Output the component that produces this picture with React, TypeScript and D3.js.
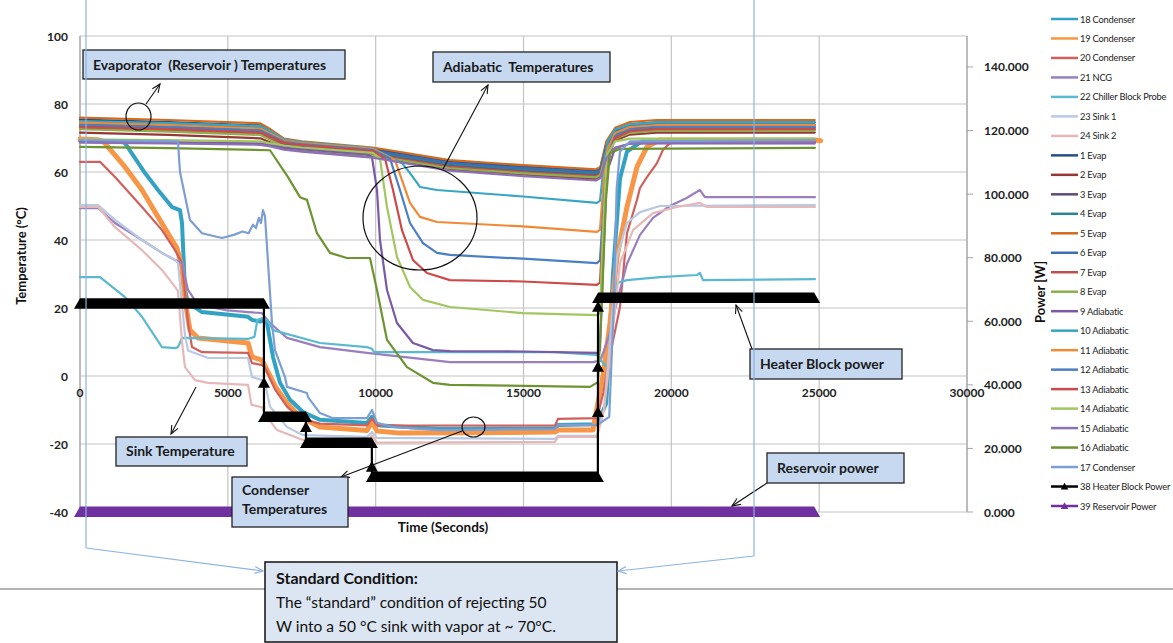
import * as d3 from "d3";

type Pt = [number, number];

// ---------- axes ----------
const timeTicks = [0, 5000, 10000, 15000, 20000, 25000, 30000];
const tempTicks = [-40, -20, 0, 20, 40, 60, 80, 100];
const powerTicks = [0, 20, 40, 60, 80, 100, 120, 140];

// ---------- temperature data (time s, °C) ----------
// evaporator / top cluster share the same sample times
const clusterTimes = [0, 3000, 6100, 6400, 6900, 7500, 9900, 12500, 15000, 17450, 17600, 17800, 18100, 18600, 19500, 24850];
const evap1 = [75.4, 74.7, 73.7, 72.3, 69.4, 68.6, 66.8, 63.1, 61.6, 60.4, 61.1, 68.3, 72.3, 74.0, 74.6, 74.6];
const evap2 = [71.6, 70.9, 69.9, 68.8, 67.0, 66.2, 64.4, 60.7, 59.2, 58.0, 58.7, 65.3, 69.3, 71.0, 71.6, 71.6];
const evap3 = [73.6, 72.9, 71.9, 70.6, 68.2, 67.4, 65.6, 61.9, 60.4, 59.2, 59.9, 66.7, 70.7, 72.4, 73.0, 73.0];
const evap4 = [74.2, 73.5, 72.5, 71.2, 68.6, 67.8, 66.0, 62.3, 60.8, 59.6, 60.3, 67.2, 71.2, 72.9, 73.5, 73.5];
const evap5 = [76.0, 75.3, 74.3, 72.8, 69.8, 69.0, 67.2, 63.5, 62.0, 60.8, 61.5, 69.0, 73.0, 74.7, 75.3, 75.3];
const evap6 = [74.8, 74.1, 73.1, 71.7, 69.0, 68.2, 66.4, 62.7, 61.2, 60.0, 60.7, 67.7, 71.7, 73.4, 74.0, 74.0];
const evap7 = [73.0, 72.3, 71.3, 70.0, 67.8, 67.0, 65.2, 61.5, 60.0, 58.8, 59.5, 66.2, 70.2, 71.9, 72.5, 72.5];
const evap8 = [72.6, 71.9, 70.9, 69.6, 67.4, 66.6, 64.8, 61.1, 59.6, 58.4, 59.1, 65.8, 69.8, 71.5, 72.1, 72.1];
const adia15 = [68.6, 68.4, 68.0, 67.6, 66.6, 66.0, 64.2, 60.4, 58.8, 57.5, 58.2, 64.0, 67.2, 68.3, 68.6, 68.6];

const adia9: Pt[] = [[0, 69.0], [3000, 68.8], [6100, 68.4], [6400, 68.0], [6900, 67.2], [7500, 66.7], [9706, 65.2], [9875, 64.4], [10045, 54.7], [10146, 40.0], [10383, 25.3], [10721, 15.6], [11262, 9.7], [11938, 7.6], [12513, 7.3], [14982, 7.2], [17485, 6.8], [17586, 7.5], [17700, 35], [17820, 60], [18100, 67], [18600, 68.4], [24850, 68.4]];
const adia10: Pt[] = [[0, 75.0], [3000, 74.4], [6100, 73.5], [6400, 72.2], [6900, 69.5], [7500, 68.8], [9900, 67.0], [10890, 62.6], [11161, 59.7], [11499, 55.6], [12074, 54.7], [14982, 52.8], [17485, 50.9], [17586, 51.5], [17720, 62], [17850, 69], [18100, 72.5], [18600, 74.0], [19500, 74.6], [24850, 74.6]];
const adia11: Pt[] = [[0, 74.5], [3000, 73.8], [6100, 72.8], [6400, 71.5], [6900, 69.2], [7500, 68.5], [9900, 66.8], [10653, 63.5], [10890, 57.6], [11161, 50.9], [11499, 46.8], [12074, 45.3], [14982, 44.0], [17485, 42.4], [17586, 43.0], [17720, 58], [17850, 67], [18100, 71.5], [18600, 73.2], [19500, 73.8], [24850, 73.8]];
const adia12: Pt[] = [[0, 73.8], [3000, 73.2], [6100, 72.2], [6400, 71.0], [6900, 68.9], [7500, 68.2], [9900, 66.5], [10484, 64.0], [10822, 54.7], [11161, 45.0], [11600, 39.1], [12074, 36.2], [12513, 35.6], [14982, 34.5], [17485, 33.2], [17586, 34], [17720, 52], [17850, 65], [18100, 70.5], [18600, 72.6], [19500, 73.2], [24850, 73.2]];
const adia13: Pt[] = [[0, 73.2], [3000, 72.6], [6100, 71.6], [6400, 70.5], [6900, 68.6], [7500, 67.9], [9900, 66.2], [10315, 64.0], [10586, 54.7], [10890, 42.9], [11262, 34.1], [11736, 30.3], [12513, 28.2], [14982, 27.8], [17485, 26.8], [17586, 27.5], [17720, 48], [17850, 63], [18100, 70], [18600, 72.0], [19500, 72.6], [24850, 72.6]];
const adia14: Pt[] = [[0, 69.6], [3000, 69.4], [6100, 69.0], [6400, 68.5], [6900, 67.8], [7500, 67.2], [9900, 65.6], [10146, 64.0], [10383, 49.7], [10721, 35.0], [11161, 26.2], [11600, 22.4], [12513, 20.3], [14982, 18.5], [17485, 17.9], [17586, 18.5], [17700, 45], [17820, 65], [18100, 69], [18600, 69.8], [24850, 69.8]];
const adia16: Pt[] = [[0, 67.4], [3000, 67.0], [6426, 66.4], [7035, 58.5], [7440, 52.6], [7677, 51.8], [8015, 42], [8455, 36.2], [9030, 34.7], [9808, 34.7], [10045, 25.3], [10383, 10.6], [11059, 2.6], [11938, -2.0], [12513, -2.6], [17248, -3.2], [17519, -1.8], [17654, 22.4], [17789, 51.8], [17925, 65.6], [18263, 66.8], [24858, 67.1]];

const cond17: Pt[] = [[0, 69.4], [3314, 69.0], [3382, 60], [3720, 45.9], [4126, 42.0], [4802, 40.6], [5200, 41.5], [5500, 42.5], [5700, 42.0], [5850, 44.5], [5950, 43.5], [6050, 46.5], [6120, 45.0], [6189, 48.8], [6257, 47], [6493, 15.6], [6595, 7.6], [6933, -0.3], [7001, -3.2], [7677, -5.0], [7711, -6.2], [8117, -10.9], [8556, -12.4], [9706, -12.4], [9875, -10.0], [10045, -13.8], [10586, -15.0], [12175, -15.9], [16064, -15.6], [16166, -14.4], [17485, -14.4], [17900, -12], [18050, 20], [18150, 55], [18263, 66], [18600, 69.0], [24858, 69.4]];
const cond18: Pt[] = [[0, 69.2], [1400, 69.0], [1522, 68.5], [2198, 59.7], [2638, 54.7], [3111, 49.7], [3382, 48.8], [3450, 45.0], [3551, 25.3], [3653, 21.5], [4126, 18.8], [5682, 17.4], [5817, 16.5], [6088, 16.0], [6257, 16.5], [6324, 15.6], [6527, 5.6], [6764, -2.0], [7102, -7.0], [7542, -10.6], [8117, -12.9], [9706, -13.8], [9875, -12.0], [10045, -14.5], [12175, -15.6], [16064, -15.6], [16166, -14.4], [17485, -14.2], [17800, -8.0], [18026, 30.0], [18263, 58.0], [18500, 66.0], [19000, 69.0], [24858, 69.2]];
const cond19: Pt[] = [[0, 69.7], [600, 69.5], [778, 69.1], [1522, 61.5], [2097, 54.7], [2638, 46.8], [3111, 40.0], [3281, 37.6], [3450, 32.0], [3551, 22.4], [3720, 13.5], [3991, 11.2], [5682, 9.7], [5817, 5.6], [6155, 4.7], [6257, 3.0], [6600, -3.0], [7001, -8.0], [7440, -12.0], [8117, -15.0], [9706, -16.0], [9875, -13.5], [10045, -16.2], [10822, -16.8], [16064, -16.5], [16166, -15.9], [17350, -15.9], [17688, 0.0], [17925, 15.6], [18162, 35.0], [18500, 49.7], [18838, 61.5], [19176, 67.4], [19600, 69.4], [24858, 69.4], [25050, 69.2]];
const cond20: Pt[] = [[0, 63.0], [676, 63.0], [1184, 58.5], [2097, 49.7], [2773, 42.9], [3213, 37.0], [3450, 33.2], [3653, 15.6], [3788, 8.5], [4126, 7.0], [5682, 6.8], [5817, 3.8], [6155, 3.2], [6257, 2.5], [6600, -4], [7001, -9], [7440, -12.5], [8117, -14.0], [9706, -14.5], [9875, -12.5], [10045, -14.5], [16064, -14.6], [16166, -12.6], [17485, -12.4], [17700, -5], [17900, 5], [18263, 20.3], [18500, 42.0], [18838, 51.8], [18939, 55.3], [19176, 58.5], [19514, 62.6], [19717, 66.5], [19954, 68.5], [20500, 68.8], [24858, 68.8]];
const ncg21: Pt[] = [[0, 49.4], [609, 49.4], [1184, 45.0], [2097, 40.0], [2773, 36.2], [3213, 34.1], [3450, 33.2], [3653, 25.3], [3991, 20.9], [4904, 19.4], [5682, 18.8], [6155, 18.5], [6426, 15.6], [7001, 11.2], [8117, 8.5], [9706, 6.8], [12513, 4.1], [17350, 4.1], [17600, 4.5], [17900, 12.0], [18163, 22.0], [18500, 33.0], [18940, 41.5], [19380, 46.5], [19950, 50.0], [20500, 52.3], [20968, 54.7], [21138, 52.6], [24858, 52.6]];
const chiller22: Pt[] = [[0, 29.1], [676, 29.1], [1522, 23.2], [2097, 17.4], [2773, 8.5], [3213, 8.2], [3314, 8.5], [3450, 11.2], [5682, 10.9], [5900, 11.5], [6000, 16.5], [6150, 17.0], [6324, 16.5], [6527, 13.5], [8117, 9.7], [9706, 8.5], [9875, 8.0], [9950, 7.0], [12513, 7.0], [16064, 7.0], [17485, 6.2], [17720, 3.5], [17857, 2.8], [18026, 20.3], [18162, 27.4], [18500, 28.2], [19616, 29.1], [20867, 29.7], [20968, 30.3], [21070, 28.2], [24858, 28.5]];
const sink23: Pt[] = [[0, 50.3], [609, 50.3], [1184, 45.9], [2097, 40.0], [2773, 36.2], [3213, 34.1], [3314, 33.2], [3551, 12], [3653, 7.5], [4329, 5.3], [5682, 5.3], [5817, -0.3], [6155, -1.2], [6257, -2.0], [6426, -9.0], [7001, -15.0], [7542, -17.4], [9706, -17.9], [9875, -16.5], [10045, -18.2], [16064, -18.5], [16166, -17.6], [17485, -17.6], [17720, -10], [17900, 8], [18162, 35.0], [18500, 45.0], [18939, 48.2], [19616, 50.0], [24858, 50.3]];
const sink24: Pt[] = [[0, 49.7], [609, 49.7], [1184, 43.8], [2097, 37.0], [2773, 31.2], [3111, 27.4], [3213, 26.2], [3314, 25.0], [3450, 10], [3551, 2.6], [3889, -1.2], [4329, -2.0], [5682, -2.6], [5800, -8.5], [6155, -9.2], [6324, -12.0], [6663, -15.9], [7542, -18.8], [9706, -19.4], [9875, -17.5], [10045, -19.6], [16064, -19.4], [16166, -17.9], [17485, -17.9], [17720, -10], [17925, 5.6], [18263, 33.2], [18703, 42.9], [19379, 47.9], [20190, 49.7], [20968, 50.9], [21205, 49.7], [24858, 49.7]];

// ---------- power data (time s, W) ----------
const heaterPower: Pt[] = [[0, 65.5], [6220, 65.5], [6222, 40.6], [6224, 29.9], [7640, 29.9], [7642, 26.7], [7644, 21.7], [9870, 21.7], [9872, 14.2], [9874, 11], [17515, 11], [17517, 31.4], [17519, 45.6], [17521, 64.5], [17523, 67.3], [24830, 67.3]];
const reservoirPower: Pt[] = [[0, 0], [24830, 0]];

const zipC = (v: number[]): Pt[] => clusterTimes.map((t, i) => [t, v[i]] as Pt);

const tempSeries = [
  { name: "18 Condenser", color: "#31a2c4", w: 4, data: cond18 },
  { name: "19 Condenser", color: "#f79646", w: 5, data: cond19 },
  { name: "20 Condenser", color: "#d0605c", w: 2.2, data: cond20 },
  { name: "21 NCG", color: "#9a7fbf", w: 2.2, data: ncg21 },
  { name: "22 Chiller Block Probe", color: "#5ab9d0", w: 2.2, data: chiller22 },
  { name: "23 Sink 1", color: "#b8c9e4", w: 2.2, data: sink23 },
  { name: "24 Sink 2", color: "#e6b9b8", w: 2.2, data: sink24 },
  { name: "1 Evap", color: "#254f86", w: 2.2, data: zipC(evap1) },
  { name: "2 Evap", color: "#953735", w: 2.2, data: zipC(evap2) },
  { name: "3 Evap", color: "#604a7b", w: 2.2, data: zipC(evap3) },
  { name: "4 Evap", color: "#2f8197", w: 2.2, data: zipC(evap4) },
  { name: "5 Evap", color: "#d46a1c", w: 2.2, data: zipC(evap5) },
  { name: "6 Evap", color: "#3a6eb5", w: 2.2, data: zipC(evap6) },
  { name: "7 Evap", color: "#c0504d", w: 2.2, data: zipC(evap7) },
  { name: "8 Evap", color: "#8db04f", w: 2.2, data: zipC(evap8) },
  { name: "9 Adiabatic", color: "#7a5aa5", w: 2.2, data: adia9 },
  { name: "10 Adiabatic", color: "#37a6c2", w: 2.2, data: adia10 },
  { name: "11 Adiabatic", color: "#f08a37", w: 2.2, data: adia11 },
  { name: "12 Adiabatic", color: "#4a7fc4", w: 2.2, data: adia12 },
  { name: "13 Adiabatic", color: "#cc4b48", w: 2.2, data: adia13 },
  { name: "14 Adiabatic", color: "#a2c760", w: 2.2, data: adia14 },
  { name: "15 Adiabatic", color: "#8c70b8", w: 2.2, data: zipC(adia15) },
  { name: "16 Adiabatic", color: "#6e9432", w: 2.2, data: adia16 },
  { name: "17 Condenser", color: "#7b9fd4", w: 2.2, data: cond17 },
];
const powerSeries = [
  { name: "38 Heater Block Power", color: "#000000", data: heaterPower },
  { name: "39 Reservoir Power", color: "#7030a0", data: reservoirPower },
];

const x = d3.scaleLinear().domain([0, 30000]).range([80, 967]);
const yT = d3.scaleLinear().domain([-40, 100]).range([512, 36]);
const yP = d3.scaleLinear().domain([0, 150]).range([512, 35.2]);

const lineT = d3.line<Pt>().x((d) => x(d[0])).y((d) => yT(d[1]));
const lineP = d3.line<Pt>().x((d) => x(d[0])).y((d) => yP(d[1]));

const FONT = "Lato, 'Open Sans', sans-serif";

const tri = (cx: number, cy: number, s = 6) =>
  `M${cx},${cy - s} L${cx + s},${cy + s * 0.8} L${cx - s},${cy + s * 0.8} Z`;

function PowerMarks({ data, color }: { data: Pt[]; color: string }) {
  const els: any[] = [];
  data.forEach((d, i) => {
    const prev = data[i - 1];
    const next = data[i + 1];
    const bandStart = next && next[1] === d[1] && x(next[0]) - x(d[0]) > 10;
    const bandEnd = prev && prev[1] === d[1] && x(d[0]) - x(prev[0]) > 10;
    if (bandStart) {
      const x1 = x(d[0]);
      const x2 = x(next[0]);
      const y = yP(d[1]);
      els.push(
        <polygon key={"b" + i} fill={color}
          points={`${x1 - 6},${y + 5} ${x2 + 6},${y + 5} ${x2},${y - 5.5} ${x1},${y - 5.5}`} />
      );
    } else if (!bandEnd) {
      els.push(<path key={"t" + i} d={tri(x(d[0]), yP(d[1]))} fill={color} />);
    }
  });
  return (
    <g>
      <path d={lineP(data) || ""} fill="none" stroke={color} strokeWidth={2.2} />
      {els}
    </g>
  );
}

function Arrow({ x1, y1, x2, y2, color = "#111", w = 1.1 }: any) {
  const a = Math.atan2(y2 - y1, x2 - x1);
  const s = 9;
  const p1 = [x2 - s * Math.cos(a - 0.4), y2 - s * Math.sin(a - 0.4)];
  const p2 = [x2 - s * Math.cos(a + 0.4), y2 - s * Math.sin(a + 0.4)];
  return (
    <g stroke={color} strokeWidth={w} fill="none">
      <line x1={x1} y1={y1} x2={x2} y2={y2} />
      <path d={`M${p1[0]},${p1[1]} L${x2},${y2} L${p2[0]},${p2[1]}`} />
    </g>
  );
}

function Callout({ x0, y0, w, h, lines, tx, ty, lh = 20, fs = 13.5 }: any) {
  return (
    <g>
      <rect x={x0} y={y0} width={w} height={h} fill="#c6d9f1" stroke="#222" strokeWidth={1.3} />
      {lines.map((s: string, i: number) => (
        <text key={i} x={tx} y={ty + i * lh} fontSize={fs} fontWeight={700} fill="#1a1a1a"
          style={{ whiteSpace: "pre" }}>{s}</text>
      ))}
    </g>
  );
}

export default function App() {
  return (
    <svg width={1173} height={643} style={{ position: "absolute", left: 0, top: 0 }} fontFamily={FONT}>
      <rect width={1173} height={643} fill="#fff" />

      {/* gridlines */}
      {tempTicks.map((t) => (
        <line key={"h" + t} x1={80} x2={967} y1={yT(t)} y2={yT(t)} stroke="#c4c4c4" strokeWidth={1.2} />
      ))}
      {timeTicks.map((t) => (
        <line key={"v" + t} x1={x(t)} x2={x(t)} y1={36} y2={512} stroke="#c4c4c4" strokeWidth={1.2} />
      ))}
      <line x1={80} x2={80} y1={36} y2={512} stroke="#a6a6a6" strokeWidth={1.2} />
      <line x1={967} x2={967} y1={36} y2={512} stroke="#a6a6a6" strokeWidth={1.2} />
      {powerTicks.map((p) => (
        <line key={"pt" + p} x1={967} x2={973} y1={yP(p)} y2={yP(p)} stroke="#a6a6a6" />
      ))}

      {/* tick labels */}
      {tempTicks.map((t) => (
        <text key={"tl" + t} x={68} y={yT(t) + 4.5} textAnchor="end" fontSize={12} fontWeight={700} fill="#222">{t}</text>
      ))}
      {timeTicks.map((t) => (
        <text key={"xl" + t} x={x(t)} y={yT(0) + 21} textAnchor="middle" fontSize={12} fontWeight={700} fill="#222">{t}</text>
      ))}
      {powerTicks.map((p) => (
        <text key={"pl" + p} x={984} y={yP(p) + 4.5} fontSize={12} fontWeight={700} fill="#222">{d3.format(".3f")(p)}</text>
      ))}

      {/* axis titles */}
      <text transform="translate(26,256) rotate(-90)" textAnchor="middle" fontSize={13} fontWeight={700} fill="#111">Temperature (°C)</text>
      <text transform="translate(1045,292) rotate(-90)" textAnchor="middle" fontSize={13} fontWeight={700} fill="#111">Power [W]</text>
      <text x={443} y={532} textAnchor="middle" fontSize={13.5} fontWeight={700} fill="#111">Time (Seconds)</text>

      {/* temperature series */}
      {tempSeries.map((s) => (
        <path key={s.name} d={lineT(s.data) || ""} fill="none" stroke={s.color} strokeWidth={s.w}
          strokeLinejoin="round" strokeLinecap="round" />
      ))}

      {/* power series */}
      {powerSeries.map((s) => (
        <PowerMarks key={s.name} data={s.data} color={s.color} />
      ))}

      {/* callouts */}
      <ellipse cx={138.5} cy={116.5} rx={12.5} ry={13.5} fill="none" stroke="#111" strokeWidth={1.2} />
      <Arrow x1={146} y1={104} x2={160} y2={84} />
      <Callout x0={83} y0={50} w={262} h={29} lines={["Evaporator  (Reservoir ) Temperatures"]} tx={93} ty={70} fs={14} />

      <ellipse cx={420} cy={218} rx={57} ry={52} fill="none" stroke="#111" strokeWidth={1.2} />
      <Arrow x1={443} y1={169} x2={488} y2={85} />
      <Callout x0={433} y0={52} w={177} h={30} lines={["Adiabatic  Temperatures"]} tx={443} ty={72} fs={14} />

      <Arrow x1={196} y1={387} x2={171} y2={434} />
      <Callout x0={116} y0={437} w={131} h={29} lines={["Sink Temperature"]} tx={126} ty={456} fs={14} />

      <ellipse cx={473.5} cy={427} rx={11.5} ry={10} fill="none" stroke="#111" strokeWidth={1.2} />
      <Arrow x1={462} y1={431} x2={341} y2={477} />
      <Callout x0={232} y0={477} w={116} h={50} lines={["Condenser", "Temperatures"]} tx={242} ty={495} lh={19} fs={14} />

      <Arrow x1={752} y1={349} x2={736} y2={305} />
      <Callout x0={750} y0={349} w={152} h={30} lines={["Heater Block power"]} tx={760} ty={369} fs={14} />

      <Arrow x1={767} y1={483} x2={732} y2={506} />
      <Callout x0={767} y0={453} w={137} h={30} lines={["Reservoir power"]} tx={777} ty={473} fs={14} />

      {/* legend */}
      {[...tempSeries, ...powerSeries].map((s: any, i) => {
        const ly = 19 + i * 19.48;
        return (
          <g key={"lg" + s.name}>
            <line x1={1051} x2={1078} y1={ly} y2={ly} stroke={s.color} strokeWidth={2.5} />
            {i >= tempSeries.length && <path d={tri(1064.5, ly, 3.8)} fill={s.color} />}
            <text x={1080} y={ly + 3.5} fontSize={9.3} letterSpacing={-0.2} fill="#222">{s.name}</text>
          </g>
        );
      })}

      {/* page separator + standard condition box */}
      <line x1={0} x2={1173} y1={589} y2={589} stroke="#9a9a9a" strokeWidth={1.3} />
      <rect x={265} y={562} width={352} height={80} fill="#dce6f2" stroke="#111" strokeWidth={1.5} />
      <text x={276} y={584} fontSize={16} fontWeight={700} fill="#111">Standard Condition:</text>
      <text x={276} y={608} fontSize={15.5} fill="#111">The “standard” condition of rejecting 50</text>
      <text x={276} y={632} fontSize={15.5} fill="#111">W into a 50 °C sink with vapor at ~ 70°C.</text>

      {/* bracket lines */}
      <path d="M86,0 L86,548" stroke="#8db3e2" strokeWidth={1.2} fill="none" />
      <Arrow x1={86} y1={548} x2={263} y2={571} color="#8db3e2" w={1.2} />
      <path d="M754,0 L754,556" stroke="#8db3e2" strokeWidth={1.2} fill="none" />
      <Arrow x1={754} y1={556} x2={618} y2={571} color="#8db3e2" w={1.2} />
    </svg>
  );
}
